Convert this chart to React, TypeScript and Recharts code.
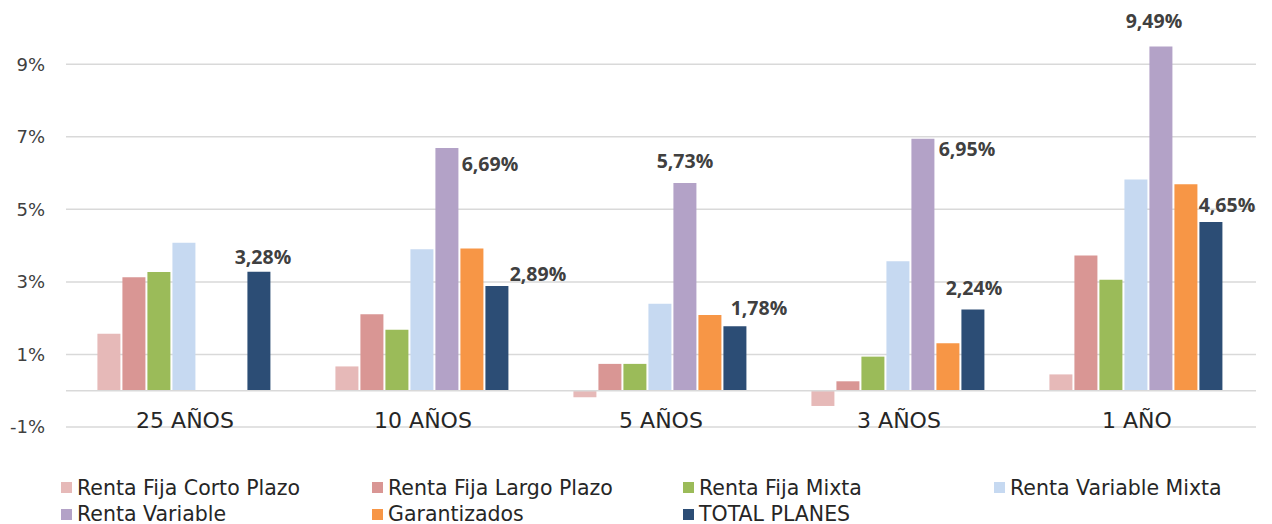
import React from "react";
import {
  BarChart,
  Bar,
  XAxis,
  YAxis,
  CartesianGrid,
  ReferenceLine,
  LabelList,
} from "recharts";

const categorias = ["25 AÑOS", "10 AÑOS", "5 AÑOS", "3 AÑOS", "1 AÑO"];

const rentaFijaCorto = [1.57, 0.67, -0.18, -0.42, 0.45];
const rentaFijaLargo = [3.13, 2.11, 0.74, 0.26, 3.73];
const rentaFijaMixta = [3.27, 1.68, 0.74, 0.94, 3.06];
const rentaVariableMixta = [4.08, 3.9, 2.4, 3.57, 5.82];
const rentaVariable = [null, 6.69, 5.73, 6.95, 9.49];
const garantizados = [null, 3.92, 2.09, 1.31, 5.69];
const totalPlanes = [3.28, 2.89, 1.78, 2.24, 4.65];

const yTicks = [-1, 1, 3, 5, 7, 9];

// desplazamiento manual de etiquetas (como en el excel original)
const offsetVariable = [
  [0, 0],
  [43, 15],
  [0, -22],
  [44, 10],
  [-7, -26],
];
const offsetTotal = [
  [4, -15],
  [41, -12],
  [24, -19],
  [1, -22],
  [16, -18],
];

const series = [
  { key: "rfc", name: "Renta Fija Corto Plazo", color: "#e6b9b8", values: rentaFijaCorto },
  { key: "rfl", name: "Renta Fija Largo Plazo", color: "#d99694", values: rentaFijaLargo },
  { key: "rfm", name: "Renta Fija Mixta", color: "#9bbb59", values: rentaFijaMixta },
  { key: "rvm", name: "Renta Variable Mixta", color: "#c6d9f1", values: rentaVariableMixta },
  { key: "rv", name: "Renta Variable", color: "#b3a2c7", values: rentaVariable },
  { key: "gar", name: "Garantizados", color: "#f79646", values: garantizados },
  { key: "tot", name: "TOTAL PLANES", color: "#2c4d75", values: totalPlanes },
];

const data = categorias.map((cat, i) => {
  const row: Record<string, any> = { cat };
  series.forEach((s) => {
    row[s.key] = s.values[i];
  });
  return row;
});

const fmt = (v: number) => v.toFixed(2).replace(".", ",") + "%";

// el index de LabelList salta los nulos, así que se busca la categoría por el valor
const makeLabel = (values: (number | null)[], offsets: number[][]) => (props: any) => {
  const { x, y, width, value } = props;
  if (value === null || value === undefined) return null;
  const idx = values.indexOf(Number(value));
  const [dx, dy] = offsets[idx] || [0, -15];
  return (
    <text
      x={Number(x) + Number(width) / 2 + dx}
      y={Number(y) + dy}
      textAnchor="middle"
      dominantBaseline="central"
      fill="#404040"
      fontFamily="'Open Sans', sans-serif"
      fontWeight={700}
      fontSize={19.5}
    >
      {fmt(Number(value))}
    </text>
  );
};

const CategoryTick = (props: any) => {
  const { x, y, payload } = props;
  return (
    <text
      x={x}
      y={y - 7}
      textAnchor="middle"
      dominantBaseline="central"
      fill="#262626"
      fontFamily="'DejaVu Sans', sans-serif"
      fontSize={22}
    >
      {payload.value}
    </text>
  );
};

const legendPos = [
  [53, 0],
  [364, 0],
  [675, 0],
  [986, 0],
  [53, 1],
  [364, 1],
  [675, 1],
];

const App: React.FC = () => {
  return (
    <div style={{ width: 1256, position: "relative" }}>
      <BarChart
        width={1256}
        height={440}
        data={data}
        margin={{ top: 20, right: 8, bottom: 20, left: 0 }}
        barCategoryGap="13.2%"
        barGap={2}
      >
        <CartesianGrid
          vertical={false}
          horizontalValues={yTicks}
          stroke="#d9d9d9"
          strokeWidth={1.5}
        />
        <XAxis
          dataKey="cat"
          height={1}
          axisLine={false}
          tickLine={false}
          tickSize={0}
          tickMargin={0}
          tick={<CategoryTick />}
          interval={0}
        />
        <YAxis
          width={58}
          domain={[-1, 10]}
          ticks={yTicks}
          axisLine={false}
          tickLine={false}
          tickMargin={15}
          tickFormatter={(v: number) => `${v}%`}
          tick={{ fill: "#404040", fontSize: 18, fontFamily: "'DejaVu Sans', sans-serif" }}
        />
        <ReferenceLine y={0} stroke="#d9d9d9" strokeWidth={1.5} />
        {series.map((s) => (
          <Bar
            key={s.key}
            dataKey={s.key}
            name={s.name}
            fill={s.color}
            isAnimationActive={false}
          >
            {s.key === "rv" && (
              <LabelList dataKey="rv" content={makeLabel(rentaVariable, offsetVariable)} />
            )}
            {s.key === "tot" && (
              <LabelList dataKey="tot" content={makeLabel(totalPlanes, offsetTotal)} />
            )}
          </Bar>
        ))}
      </BarChart>
      <div style={{ position: "relative", height: 76 }}>
        {series.map((s, i) => {
          const [left, row] = legendPos[i];
          const center = row === 0 ? 39.5 : 66;
          return (
            <div
              key={s.key}
              style={{
                position: "absolute",
                left,
                top: center - 12,
                height: 24,
                display: "flex",
                alignItems: "center",
                fontFamily: "'DejaVu Sans', sans-serif",
                fontSize: 20.5,
                color: "#262626",
                whiteSpace: "nowrap",
              }}
            >
              <span
                style={{
                  display: "inline-block",
                  width: 11,
                  height: 11,
                  background: s.color,
                  marginRight: 5,
                }}
              />
              {s.name}
            </div>
          );
        })}
      </div>
    </div>
  );
};

export default App;
